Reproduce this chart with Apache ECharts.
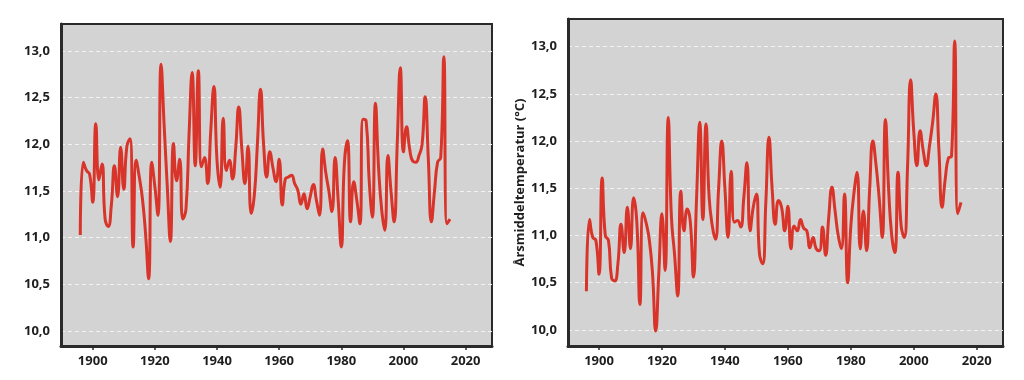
<!DOCTYPE html>
<html>
<head>
<meta charset="utf-8">
<script src="https://cdn.jsdelivr.net/npm/echarts@6/dist/echarts.min.js"></script>
<style>
  html, body { margin: 0; padding: 0; background: #ffffff; }
  #chart { width: 1024px; height: 380px; }
</style>
</head>
<body>
<div id="chart"></div>
<script>
// Years of the annual series (1896–2015)
const FIRST_YEAR = 1896;
const LAST_YEAR = 2015;
const years = [];
for (let y = FIRST_YEAR; y <= LAST_YEAR; y++) years.push(y);

// Left panel: annual mean temperature (°C)
const leftTemp = [
  11.03, 11.81, 11.72, 11.68, 11.38, 12.22, 11.62, 11.79, 11.20, 11.12,
  11.35, 11.77, 11.44, 11.97, 11.52, 11.98, 12.06, 10.90, 11.83, 11.65,
  11.42, 11.05, 10.56, 11.81, 11.55, 11.24, 12.86, 12.20, 11.55, 10.96,
  12.01, 11.61, 11.84, 11.20, 11.30, 12.10, 12.77, 11.77, 12.79, 11.76,
  11.86, 11.58, 12.15, 12.62, 11.83, 11.54, 12.28, 11.72, 11.83, 11.63,
  11.95, 12.40, 11.95, 11.58, 11.98, 11.26, 11.45, 12.00, 12.59, 12.00,
  11.65, 11.92, 11.75, 11.60, 11.84, 11.35, 11.63, 11.65, 11.67, 11.58,
  11.51, 11.36, 11.47, 11.31, 11.44, 11.57, 11.40, 11.24, 11.95, 11.70,
  11.50, 11.28, 11.86, 11.40, 10.90, 11.80, 12.04, 11.17, 11.60, 11.40,
  11.15, 12.27, 12.25, 11.60, 11.22, 12.44, 11.75, 11.30, 11.08, 11.88,
  11.50, 11.17, 12.00, 12.82, 11.92, 12.19, 11.95, 11.82, 11.81, 11.88,
  12.00, 12.51, 11.85, 11.17, 11.50, 11.81, 11.86, 12.94, 11.15, 11.20
];

// Right panel: annual mean temperature (°C)
const rightTemp = [
  10.41, 11.17, 10.98, 10.95, 10.59, 11.61, 11.00, 10.95, 10.55, 10.52,
  10.70, 11.12, 10.82, 11.30, 10.86, 11.40, 11.15, 10.27, 11.24, 11.13,
  10.95, 10.60, 9.99, 10.60, 11.23, 10.63, 12.25, 11.20, 10.80, 10.36,
  11.47, 11.05, 11.28, 11.15, 10.56, 11.40, 12.20, 11.17, 12.18, 11.40,
  11.10, 10.96, 11.50, 12.00, 11.50, 10.98, 11.68, 11.14, 11.16, 11.09,
  11.40, 11.77, 11.05, 11.30, 11.44, 10.80, 10.70, 11.35, 12.04, 11.50,
  11.12, 11.37, 11.30, 11.05, 11.31, 10.86, 11.10, 11.05, 11.17, 11.08,
  11.05, 10.87, 10.98, 10.86, 10.84, 11.09, 10.79, 11.20, 11.51, 11.26,
  11.00, 10.86, 11.44, 10.50, 11.10, 11.45, 11.67, 10.86, 11.26, 10.84,
  11.50, 12.00, 11.75, 11.40, 10.98, 12.23, 11.50, 11.00, 10.82, 11.67,
  11.10, 10.98, 11.70, 12.65, 12.10, 11.74, 12.11, 11.90, 11.74, 11.95,
  12.20, 12.50, 11.90, 11.30, 11.60, 11.82, 11.84, 13.06, 11.23, 11.35
];

// Tick labels
const xTicks = [1900, 1920, 1940, 1960, 1980, 2000, 2020];
const yTicks = [10.0, 10.5, 11.0, 11.5, 12.0, 12.5, 13.0];
const yAxisTitle = 'Årsmiddeltemperatur (°C)';

const FRAME = '#2a2a2a';
const LABEL_FONT = { color: '#1e1e1e', fontFamily: 'Open Sans', fontWeight: 'bold', fontSize: 13 };

function makeX(gridIndex, min, max) {
  return {
    type: 'value', gridIndex, min, max,
    axisLine: { show: true, onZero: false, lineStyle: { color: FRAME, width: 3 } },
    axisTick: { show: true, length: 4, customValues: xTicks, lineStyle: { color: FRAME, width: 1.5 } },
    axisLabel: Object.assign({ customValues: xTicks, margin: 9, formatter: v => String(v) }, LABEL_FONT),
    splitLine: { show: false }
  };
}
function makeY(gridIndex, min, max, extra) {
  return Object.assign({
    type: 'value', gridIndex, min, max,
    axisLine: { show: true, onZero: false, lineStyle: { color: FRAME, width: 3 } },
    axisTick: { show: false, customValues: yTicks },
    axisLabel: Object.assign({ customValues: yTicks, margin: 11,
      formatter: v => v.toFixed(1).replace('.', ',') }, LABEL_FONT),
    splitLine: { show: true, lineStyle: { color: '#f2f2f2', width: 1, type: [4, 3] } }
  }, extra || {});
}
function makeSeries(idx, values) {
  return {
    type: 'line', xAxisIndex: idx, yAxisIndex: idx,
    data: years.map((y, i) => [y, values[i]]),
    smooth: 0.5, symbol: 'none',
    lineStyle: { color: '#d8342a', width: 3 },
    animation: false
  };
}

const chart = echarts.init(document.getElementById('chart'), null, { renderer: 'canvas' });
chart.setOption({
  backgroundColor: '#ffffff',
  animation: false,
  grid: [
    { left: 61, top: 24, width: 431, height: 322, show: true, backgroundColor: '#d3d3d3', borderColor: FRAME, borderWidth: 2 },
    { left: 568, top: 19, width: 435, height: 327, show: true, backgroundColor: '#d3d3d3', borderColor: FRAME, borderWidth: 2 }
  ],
  xAxis: [makeX(0, 1889.8, 2028.5), makeX(1, 1890.15, 2028.35)],
  yAxis: [
    makeY(0, 9.84, 13.29),
    makeY(1, 9.83, 13.293, {
      name: yAxisTitle, nameLocation: 'middle', nameGap: 41, nameRotate: 90,
      nameTextStyle: { color: '#1e1e1e', fontFamily: 'Open Sans', fontWeight: 'bold', fontSize: 13 }
    })
  ],
  series: [makeSeries(0, leftTemp), makeSeries(1, rightTemp)]
});
</script>
</body>
</html>
